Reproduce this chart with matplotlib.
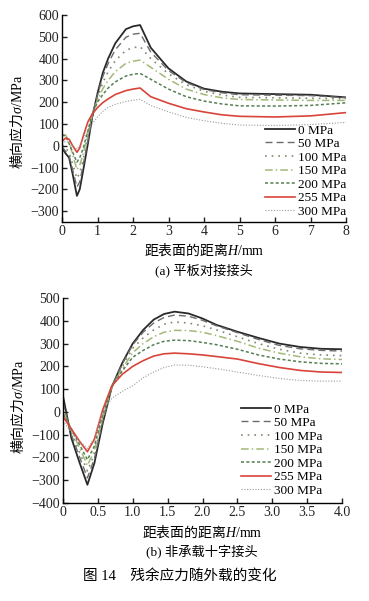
import numpy as np
import matplotlib
matplotlib.use('Agg')
import matplotlib.pyplot as plt

plt.rcParams['font.family'] = ['Liberation Serif', 'Noto Sans CJK SC']
plt.rcParams['mathtext.fontset'] = 'custom'
plt.rcParams['mathtext.rm'] = 'Noto Sans CJK SC'
plt.rcParams['mathtext.it'] = 'Liberation Serif:italic'
plt.rcParams['mathtext.sf'] = 'Liberation Serif'
plt.rcParams['axes.unicode_minus'] = True

labels = ['0 MPa', '50 MPa', '100 MPa', '150 MPa', '200 MPa', '255 MPa', '300 MPa']

# (a) 平板对接接头
xa = [0, 0.1, 0.2, 0.3, 0.42, 0.5, 0.6, 0.73, 0.85, 1.0, 1.15, 1.3, 1.5, 1.8, 2.0, 2.2,
      2.5, 3.0, 3.5, 4.0, 4.5, 5.0, 6.0, 7.0, 8.0]
ya_0 = [-10, -35, -55, -130, -230, -200, -110, 10, 130, 240, 335, 400, 470, 535, 548, 554,
        450, 355, 295, 262, 248, 240, 237, 234, 222]
ya_50 = [-5, -25, -45, -110, -190, -165, -85, 25, 130, 232, 318, 378, 440, 498, 512, 516,
         430, 345, 290, 258, 243, 234, 232, 230, 220]
ya_100 = [5, -10, -30, -85, -150, -125, -60, 40, 140, 220, 290, 340, 390, 438, 450, 455,
          400, 330, 280, 250, 233, 222, 220, 218, 215]
ya_150 = [45, 50, 20, -40, -110, -90, -35, 60, 145, 210, 262, 300, 340, 378, 388, 393,
          360, 305, 260, 235, 220, 212, 210, 208, 208]
ya_200 = [50, 45, 10, -30, -75, -55, -10, 70, 145, 200, 235, 265, 293, 320, 328, 332,
          305, 260, 225, 205, 192, 183, 182, 185, 197]
ya_255 = [20, 35, 30, 0, -30, -10, 45, 110, 145, 175, 198, 215, 235, 253, 260, 265,
          225, 195, 170, 155, 142, 135, 132, 137, 152]
ya_300 = [10, 20, 15, 0, -15, 0, 30, 75, 100, 132, 158, 176, 190, 203, 209, 213,
          185, 155, 130, 115, 103, 95, 93, 97, 107]

# (b) 非承载十字接头
xb = [0, 0.12, 0.24, 0.35, 0.45, 0.57, 0.7, 0.85, 1.0, 1.15, 1.3, 1.45, 1.6, 1.8, 2.0,
      2.2, 2.5, 2.8, 3.1, 3.4, 3.7, 4.0]
yb_0 = [70, -115, -225, -320, -225, -50, 110, 215, 300, 360, 405, 430, 440, 432, 410,
        382, 352, 325, 300, 285, 277, 275]
yb_50 = [40, -100, -200, -290, -205, -40, 110, 210, 295, 350, 390, 415, 425, 420, 402,
         378, 348, 318, 292, 277, 270, 267]
yb_100 = [20, -90, -180, -260, -185, -30, 110, 200, 280, 325, 360, 385, 395, 390, 378,
          360, 330, 300, 275, 258, 250, 247]
yb_150 = [0, -80, -160, -235, -170, -20, 110, 190, 260, 300, 330, 350, 358, 357, 350,
          335, 310, 280, 258, 242, 233, 230]
yb_200 = [-10, -75, -145, -210, -150, -10, 110, 180, 240, 270, 295, 310, 315, 313, 305,
          295, 275, 250, 232, 220, 213, 211]
yb_255 = [-20, -75, -130, -175, -120, 10, 115, 165, 200, 225, 245, 255, 258, 255, 250,
          243, 232, 212, 195, 182, 175, 173]
yb_300 = [-40, -90, -130, -160, -115, 0, 60, 90, 115, 150, 175, 195, 206, 205, 198,
          190, 175, 160, 147, 138, 135, 135]

styles = [
    dict(color='#2a2a2a', ls='-', lw=1.3),
    dict(color='#6b6b6b', ls=(0, (5, 3)), lw=1.0),
    dict(color='#7c8a70', ls=(0, (1, 3)), lw=1.2),
    dict(color='#a3b878', ls=(0, (5, 2, 1, 2)), lw=1.1),
    dict(color='#557f55', ls=(0, (2, 1.5)), lw=1.1),
    dict(color='#d9443a', ls='-', lw=1.2),
    dict(color='#9a9a9a', ls=(0, (1, 1.5)), lw=0.8),
]

fig = plt.figure(figsize=(3.69, 6.01), dpi=100)
W, H = 369.0, 601.0

ax1 = fig.add_axes([62 / W, 1 - 222 / H, (346 - 62) / W, (222 - 15) / H])
ax2 = fig.add_axes([63 / W, 1 - 503 / H, (342 - 63) / W, (503 - 298) / H])

for ys, st, lb in zip([ya_0, ya_50, ya_100, ya_150, ya_200, ya_255, ya_300], styles, labels):
    ax1.plot(xa, ys, label=lb, **st)
for ys, st, lb in zip([yb_0, yb_50, yb_100, yb_150, yb_200, yb_255, yb_300], styles, labels):
    ax2.plot(xb, ys, label=lb, **st)

ax1.set_xlim(0, 8)
ax1.set_ylim(-350, 600)
ax1.set_xticks(range(0, 9))
ax1.set_yticks(range(-300, 601, 100))

ax2.set_xlim(0, 4)
ax2.set_ylim(-400, 500)
ax2.set_xticks(np.arange(0, 4.01, 0.5))
ax2.set_xticklabels(['0', '0.5', '1.0', '1.5', '2.0', '2.5', '3.0', '3.5', '4.0'])
ax2.set_yticks(range(-400, 501, 100))

for ax in (ax1, ax2):
    ax.spines['top'].set_visible(False)
    ax.spines['right'].set_visible(False)
    ax.spines['left'].set_linewidth(1.0)
    ax.spines['bottom'].set_linewidth(1.0)
    ax.tick_params(direction='in', length=3.5, width=1.0, labelsize=10, pad=2,
                   colors='#222222')

leg_kw = dict(frameon=False, fontsize=9.5, handlelength=2.3, handletextpad=0.2,
              labelspacing=0.1, borderpad=0, borderaxespad=0)
ax1.legend(loc='lower right', bbox_to_anchor=(1.0, 0.02), **leg_kw)
ax2.legend(loc='lower right', bbox_to_anchor=(0.93, 0.03), **leg_kw)

# axis labels and captions
fig.text(204 / W, 1 - 250 / H, '$\\mathrm{距表面的距离}H\\mathsf{/mm}$', ha='center',
         va='center', fontsize=10)
fig.text(204 / W, 1 - 270 / H, '(a) 平板对接接头', ha='center', va='center', fontsize=9.5)
fig.text(17 / W, 1 - 122 / H, '$\\mathrm{横向应力}\\sigma\\mathsf{/MPa}$', ha='center',
         va='center', rotation=90, fontsize=10)

fig.text(202 / W, 1 - 532 / H, '$\\mathrm{距表面的距离}H\\mathsf{/mm}$', ha='center',
         va='center', fontsize=10)
fig.text(202 / W, 1 - 552 / H, '(b) 非承载十字接头', ha='center', va='center', fontsize=9.5)
fig.text(18 / W, 1 - 407 / H, '$\\mathrm{横向应力}\\sigma\\mathsf{/MPa}$', ha='center',
         va='center', rotation=90, fontsize=10)

fig.text(180 / W, 1 - 576 / H, '图 14    残余应力随外载的变化', ha='center', va='center',
         fontsize=10.5)

fig.savefig('out.png', dpi=100)
